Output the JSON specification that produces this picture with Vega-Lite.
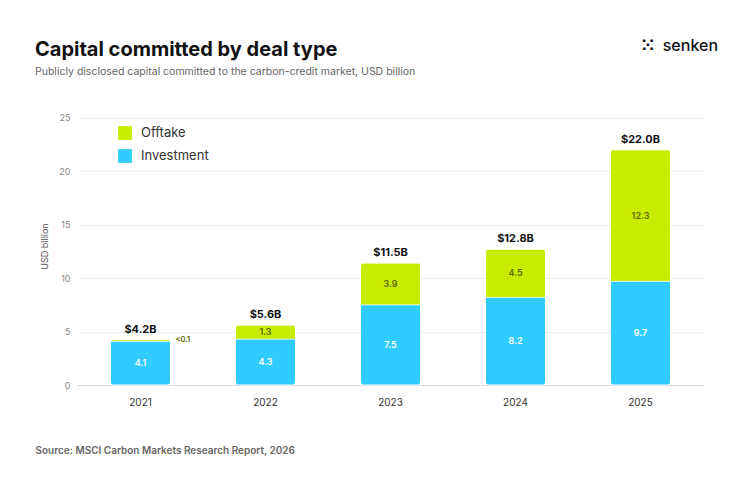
{
  "$schema": "https://vega.github.io/schema/vega-lite/v6.json",
  "width": 625,
  "height": 278,
  "autosize": {"type": "none"},
  "padding": {"left": 78, "top": 107, "right": 47, "bottom": 106},
  "background": "white",
  "config": {
    "font": "Inter",
    "view": {"stroke": null}
  },
  "title": {
    "text": "Capital committed by deal type",
    "subtitle": "Publicly disclosed capital committed to the carbon-credit market, USD billion",
    "anchor": "start",
    "frame": "group",
    "dx": -43,
    "offset": -41,
    "fontSize": 20,
    "fontWeight": "bold",
    "color": "#111111",
    "subtitleFontSize": 10.5,
    "subtitleColor": "#666666",
    "subtitlePadding": 7
  },
  "datasets": {
    "bars": [
      {"year": "2021", "type": "Investment", "value": 4.1, "label": "4.1"},
      {"year": "2021", "type": "Offtake", "value": 0.15, "label": "<0.1"},
      {"year": "2022", "type": "Investment", "value": 4.3, "label": "4.3"},
      {"year": "2022", "type": "Offtake", "value": 1.3, "label": "1.3"},
      {"year": "2023", "type": "Investment", "value": 7.5, "label": "7.5"},
      {"year": "2023", "type": "Offtake", "value": 3.9, "label": "3.9"},
      {"year": "2024", "type": "Investment", "value": 8.2, "label": "8.2"},
      {"year": "2024", "type": "Offtake", "value": 4.5, "label": "4.5"},
      {"year": "2025", "type": "Investment", "value": 9.7, "label": "9.7"},
      {"year": "2025", "type": "Offtake", "value": 12.3, "label": "12.3"}
    ],
    "totals": [
      {"year": "2021", "total": 4.25, "label": "$4.2B"},
      {"year": "2022", "total": 5.6, "label": "$5.6B"},
      {"year": "2023", "total": 11.4, "label": "$11.5B"},
      {"year": "2024", "total": 12.7, "label": "$12.8B"},
      {"year": "2025", "total": 22.0, "label": "$22.0B"}
    ],
    "logo": [{"name": "senken"}]
  },
  "encoding": {
    "x": {
      "field": "year",
      "type": "ordinal",
      "scale": {"paddingInner": 0.5, "paddingOuter": 0.25},
      "axis": {
        "labelAngle": 0,
        "labelFontSize": 10,
        "labelColor": "#333333",
        "labelPadding": 12,
        "ticks": false,
        "domain": true,
        "domainColor": "#cccccc",
        "domainDash": [2, 2],
        "title": "Source: MSCI Carbon Markets Research Report, 2026",
        "titleFontSize": 10,
        "titleFontWeight": 600,
        "titleColor": "#666666",
        "titleAnchor": "start",
        "titleAlign": "left",
        "titleBaseline": "middle",
        "titleX": -43,
        "titleY": 65
      }
    }
  },
  "layer": [
    {
      "data": {"name": "bars"},
      "mark": {"type": "bar", "size": 60, "cornerRadius": 3, "stroke": "white", "strokeWidth": 0.6},
      "encoding": {
        "y": {
          "field": "value",
          "type": "quantitative",
          "stack": "zero",
          "scale": {"domain": [0, 25]},
          "axis": {
            "values": [0, 5, 10, 15, 20, 25],
            "domain": false,
            "ticks": false,
            "gridColor": "#eeeeee",
            "labelColor": "#888888",
            "labelFontSize": 9,
            "labelPadding": 8,
            "title": "USD billion",
            "titleFontSize": 9,
            "titleFontWeight": "normal",
            "titleColor": "#555555",
            "titlePadding": 9
          }
        },
        "order": {"field": "type", "type": "nominal", "sort": "ascending"},
        "color": {
          "field": "type",
          "type": "nominal",
          "scale": {"domain": ["Offtake", "Investment"], "range": ["#c8ec00", "#30ccff"]},
          "legend": {
            "title": null,
            "orient": "none",
            "legendX": 40,
            "legendY": 19,
            "symbolType": "square",
            "symbolSize": 190,
            "symbolStrokeWidth": 0,
            "symbolOpacity": 1,
            "labelFontSize": 13,
            "labelColor": "#333333",
            "labelOffset": 9,
            "rowPadding": 9
          }
        }
      }
    },
    {
      "data": {"name": "bars"},
      "transform": [
        {"stack": "value", "groupby": ["year"], "sort": [{"field": "type", "order": "ascending"}], "as": ["y0", "y1"]},
        {"fold": ["y0", "y1"], "as": ["edge", "pos"]},
        {"aggregate": [{"op": "mean", "field": "pos", "as": "mid"}], "groupby": ["year", "type", "label", "value"]},
        {"filter": "datum.value >= 0.5"}
      ],
      "mark": {"type": "text", "fontSize": 9, "fontWeight": 600, "baseline": "middle"},
      "encoding": {
        "y": {"field": "mid", "type": "quantitative"},
        "text": {"field": "label"},
        "color": {"condition": {"test": "datum.type === 'Investment'", "value": "white"}, "value": "#5a6a00"}
      }
    },
    {
      "data": {"name": "bars"},
      "transform": [
        {"stack": "value", "groupby": ["year"], "sort": [{"field": "type", "order": "ascending"}], "as": ["y0", "y1"]},
        {"filter": "datum.value < 0.5"}
      ],
      "mark": {"type": "text", "fontSize": 7.5, "fontWeight": 600, "align": "left", "baseline": "middle", "dx": 35, "color": "#5a6a00"},
      "encoding": {
        "y": {"field": "y1", "type": "quantitative"},
        "text": {"field": "label"}
      }
    },
    {
      "data": {"name": "totals"},
      "mark": {"type": "text", "fontSize": 11, "fontWeight": "bold", "baseline": "bottom", "dy": -5, "color": "#111111"},
      "encoding": {
        "y": {"field": "total", "type": "quantitative"},
        "text": {"field": "label"}
      }
    },
    {
      "data": {"name": "logo"},
      "mark": {"type": "text", "fontSize": 16, "fontWeight": 500, "align": "right", "baseline": "middle", "dx": 15, "dy": -72, "color": "#111111"},
      "encoding": {
        "x": {"value": "width"},
        "y": {"datum": 25, "type": "quantitative"},
        "text": {"field": "name"}
      }
    },
    {
      "data": {"name": "logo"},
      "mark": {"type": "text", "font": "DejaVu Sans", "fontSize": 17, "fontWeight": "bold", "align": "right", "baseline": "middle", "dx": -48, "dy": -72, "color": "#111111"},
      "encoding": {
        "x": {"value": "width"},
        "y": {"datum": 25, "type": "quantitative"},
        "text": {"value": "⁙"}
      }
    }
  ]
}
